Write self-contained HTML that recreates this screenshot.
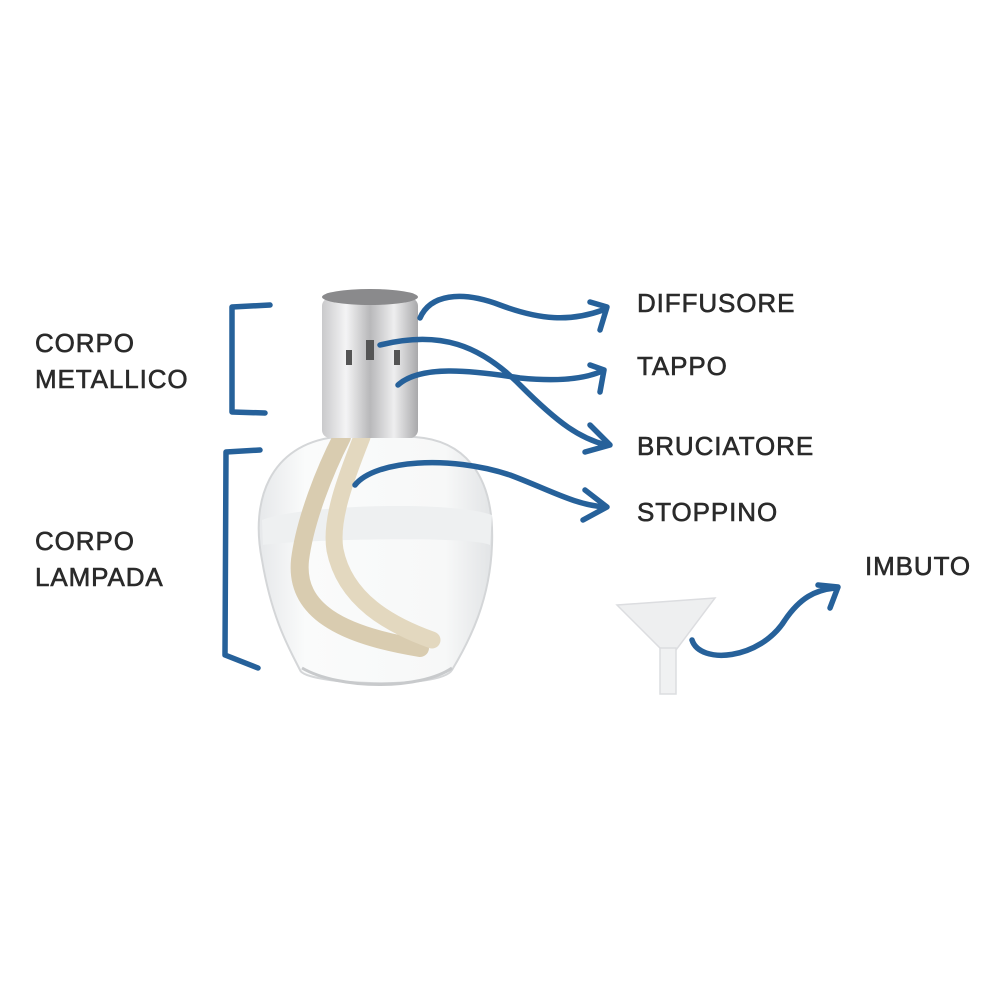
<!DOCTYPE html>
<html><head><style>
html,body{margin:0;padding:0;background:#fff;}
svg{display:block}
text{font-family:"Liberation Sans",sans-serif;font-size:26px;fill:#2a2a2a;letter-spacing:0.9px;stroke:#2a2a2a;stroke-width:0.6px}
</style></head><body>
<svg width="1000" height="1000" viewBox="0 0 1000 1000" xmlns="http://www.w3.org/2000/svg">
<defs>
<linearGradient id="cap" x1="0" x2="1">
<stop offset="0" stop-color="#c9c9cb"/><stop offset="0.25" stop-color="#f4f4f5"/><stop offset="0.5" stop-color="#b8b8ba"/><stop offset="0.75" stop-color="#eeeeef"/><stop offset="1" stop-color="#a9a9ab"/></linearGradient>
<linearGradient id="glass" x1="0" x2="1">
<stop offset="0" stop-color="#e6e8ea"/><stop offset="0.2" stop-color="#fafbfb"/><stop offset="0.8" stop-color="#f7f8f8"/><stop offset="1" stop-color="#e2e4e6"/></linearGradient>
</defs>
<path d="M335,437 C270,445 250,500 262,560 C272,620 290,650 300,670 C305,685 440,690 452,670 C470,640 490,600 492,545 C495,470 460,440 415,437 Z" fill="url(#glass)" stroke="#d4d6d8" stroke-width="2"/>
<path d="M262,520 C300,505 450,500 492,515 L490,545 C470,535 290,540 263,545 Z" fill="#eef0f1"/>
<path d="M302,668 C340,690 420,690 452,668" fill="none" stroke="#c8cacc" stroke-width="3"/>
<path d="M342,437 C325,470 305,520 300,560 C295,610 340,635 420,648" fill="none" stroke="#d9ccb0" stroke-width="18" stroke-linecap="round"/>
<path d="M362,437 C345,480 330,520 335,550 C345,600 390,625 432,640" fill="none" stroke="#e3d8bf" stroke-width="17" stroke-linecap="round"/>
<rect x="322" y="298" width="96" height="140" rx="8" fill="url(#cap)"/>
<ellipse cx="370" cy="297" rx="48" ry="8" fill="#8a8a8c"/>
<path d="M366,340 h8 v20 h-8z M346,350 h6 v15 h-6z M394,350 h6 v15 h-6z" fill="#555"/>
<g fill="none" stroke="#26619a" stroke-width="5.5" stroke-linecap="round" stroke-linejoin="round">
<path d="M270,305 L232,307 L232,412 L265,413"/>
<path d="M260,450 L226,452 L225,655 L258,668"/>
<path d="M420,318 C430,295 460,290 500,305 C540,320 570,322 603,310"/>
<path d="M590,302 L607,307 L600,330"/>
<path d="M380,345 C440,330 480,345 520,385 C560,425 580,438 606,445"/>
<path d="M590,425 L610,445 L585,452"/>
<path d="M398,385 C420,365 470,370 520,378 C560,382 585,378 600,372"/>
<path d="M590,365 L604,370 L600,392"/>
<path d="M355,485 C375,460 450,455 510,475 C550,490 575,505 605,507"/>
<path d="M585,490 L607,507 L583,520"/>
<path d="M692,640 C700,665 760,660 785,620 C800,598 815,590 835,588"/>
<path d="M818,585 L838,587 L830,608"/>
</g>
<path d="M617,605 L715,598 L676,650 L660,648 Z" fill="#eeeff0" stroke="#dcdde0" stroke-width="1.5"/>
<rect x="660" y="648" width="16" height="46" fill="#f0f1f2" stroke="#dcdde0" stroke-width="1.5"/>
<text x="637" y="312">DIFFUSORE</text>
<text x="637" y="375">TAPPO</text>
<text x="637" y="455">BRUCIATORE</text>
<text x="637" y="521">STOPPINO</text>
<text x="865" y="575">IMBUTO</text>
<text x="35" y="352">CORPO</text>
<text x="35" y="388">METALLICO</text>
<text x="35" y="550">CORPO</text>
<text x="35" y="586">LAMPADA</text>
</svg>
</body></html>
